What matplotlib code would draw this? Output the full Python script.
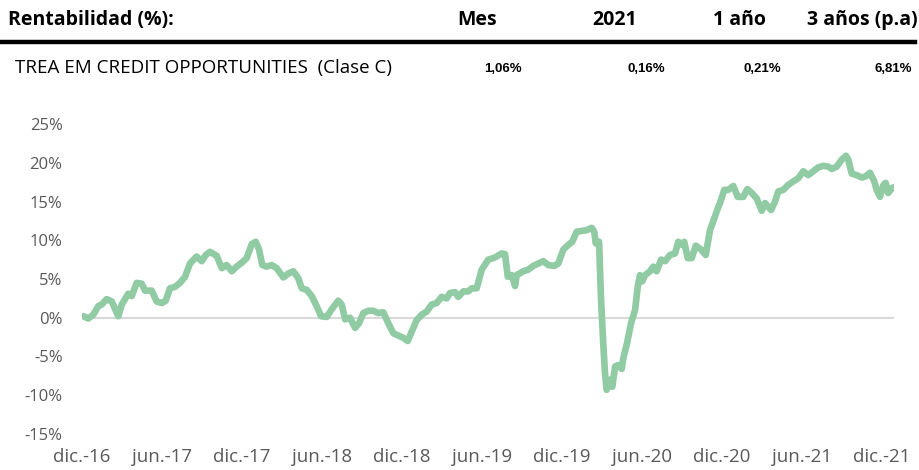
import matplotlib

matplotlib.use("Agg")
import matplotlib.pyplot as plt
from matplotlib.ticker import FuncFormatter

# meses desde dic.-16 y rentabilidad acumulada (%)
months = [
    0.10, 0.47, 0.85, 1.22, 1.48, 1.85, 2.23, 2.72, 2.98, 3.47, 3.73, 4.10, 4.48, 4.73, 5.23,
    5.60, 5.98, 6.28, 6.60, 6.98, 7.35, 7.73, 8.10, 8.60, 8.98, 9.28, 9.60, 10.10, 10.48, 10.85,
    11.23, 11.60, 11.98, 12.35, 12.73, 13.03, 13.28, 13.52, 13.85, 14.23, 14.60, 15.10, 15.47,
    15.85, 16.22, 16.48, 16.85, 17.23, 17.60, 17.93, 18.35, 18.73, 19.22, 19.48, 19.73, 20.10,
    20.48, 20.78, 21.10, 21.47, 21.85, 22.22, 22.60, 22.97, 23.35, 23.72, 24.10, 24.43, 24.85,
    25.10, 25.48, 25.85, 26.23, 26.60, 26.98, 27.35, 27.60, 27.98, 28.22, 28.60, 28.97, 29.23,
    29.60, 29.98, 30.47, 30.85, 31.10, 31.48, 31.73, 31.93, 32.23, 32.48, 32.60, 33.10, 33.47,
    33.85, 34.22, 34.60, 34.97, 35.42, 35.72, 36.10, 36.47, 36.77, 37.10, 37.48, 37.85, 38.23,
    38.42, 38.53, 38.78, 38.93, 39.10, 39.23, 39.35, 39.60, 39.77, 39.98, 40.22, 40.48, 40.60,
    40.85, 41.18, 41.48, 41.68, 41.85, 42.02, 42.23, 42.60, 42.85, 43.10, 43.43, 43.73, 44.10,
    44.48, 44.72, 45.02, 45.17, 45.43, 45.73, 46.03, 46.43, 46.78, 47.10, 47.48, 47.72, 47.85,
    48.17, 48.47, 48.85, 49.18, 49.60, 49.90, 50.23, 50.60, 50.98, 51.23, 51.68, 51.98, 52.22,
    52.60, 52.93, 53.35, 53.72, 54.10, 54.47, 54.85, 55.22, 55.60, 55.97, 56.23, 56.60, 56.98,
    57.30, 57.47, 57.73, 58.10, 58.48, 58.73, 59.10, 59.42, 59.60, 59.85, 60.10, 60.28, 60.47,
    60.73, 60.98,
]
rent = [
    0.2, -0.1, 0.4, 1.5, 1.7, 2.4, 2.1, 0.2, 1.7, 3.1, 2.8, 4.5, 4.4, 3.5, 3.5,
    2.1, 1.9, 2.2, 3.8, 4.0, 4.5, 5.3, 7.0, 7.9, 7.3, 8.1, 8.5, 8.0, 6.4, 6.8,
    6.0, 6.6, 7.1, 7.7, 9.5, 9.8, 8.8, 6.8, 6.6, 6.8, 6.4, 5.2, 5.7,
    6.0, 5.1, 3.8, 3.6, 2.8, 1.5, 0.2, 0.1, 1.1, 2.2, 1.7, -0.2, 0.0,
    -1.3, -0.7, 0.6, 0.9, 0.9, 0.6, 0.7, -0.7, -2.0, -2.3, -2.6, -3.0, -1.3,
    -0.3, 0.4, 0.8, 1.7, 1.9, 2.7, 2.5, 3.2, 3.3, 2.7, 3.4, 3.4, 3.8,
    3.8, 6.2, 7.5, 7.7, 7.9, 8.3, 8.2, 5.3, 5.5, 4.1, 5.5, 6.0, 6.2,
    6.7, 7.0, 7.3, 6.8, 6.7, 7.0, 8.8, 9.4, 9.8, 11.1, 11.2, 11.3, 11.6,
    11.1, 9.6, 9.8, 2.3, -3.5, -7.3, -9.3, -8.0, -8.9, -6.3, -6.1, -6.6, -5.2,
    -3.5, -0.7, 1.0, 4.0, 5.5, 4.7, 5.5, 6.0, 6.6, 6.0, 7.5, 7.3, 8.1,
    8.3, 9.8, 9.4, 9.8, 7.7, 7.7, 9.3, 8.8, 8.1, 11.3, 13.1, 14.3, 14.8,
    16.5, 16.5, 17.0, 15.6, 15.6, 16.6, 16.1, 15.4, 13.8, 14.8, 13.9, 15.0, 16.3,
    16.5, 17.1, 17.6, 18.0, 18.9, 18.4, 18.9, 19.4, 19.6, 19.5, 19.2, 19.5, 20.4,
    20.9, 20.4, 18.6, 18.4, 18.1, 18.2, 18.7, 17.6, 16.5, 15.6, 17.1, 17.4, 16.1,
    16.7, 16.9,
]

tick_months = [0, 6, 12, 18, 24, 30, 36, 42, 48, 54, 60]
tick_labels = ["dic.-16", "jun.-17", "dic.-17", "jun.-18", "dic.-18", "jun.-19",
               "dic.-19", "jun.-20", "dic.-20", "jun.-21", "dic.-21"]
y_ticks = [-15, -10, -5, 0, 5, 10, 15, 20, 25]

fondo = "TREA EM CREDIT OPPORTUNITIES  (Clase C)"
columnas = ["Mes", "2021", "1 año", "3 años (p.a)"]
valores = ["1,06%", "0,16%", "0,21%", "6,81%"]

plt.rcParams["font.family"] = ["Open Sans", "DejaVu Sans"]

fig = plt.figure(figsize=(9.2, 4.7), dpi=100)

# cabecera tipo tabla
fig.text(8 / 920, 1 - 20 / 470, "Rentabilidad (%):", fontsize=14, fontweight="bold", va="center")
for x, txt in zip([477, 615, 740, 862], columnas):
    fig.text(x / 920, 1 - 20 / 470, txt, fontsize=14, fontweight="bold", va="center", ha="center")
fig.add_artist(plt.Line2D([0, 915 / 920], [1 - 42 / 470] * 2, color="black", lw=3.2))
fig.text(15 / 920, 1 - 68 / 470, fondo, fontsize=13.5, va="center")
for x, txt in zip([503, 646, 762, 893], valores):
    fig.text(x / 920, 1 - 69 / 470, txt, fontsize=9.5, fontweight="bold", va="center", ha="center",
             family=["Liberation Sans", "DejaVu Sans"])

ax = fig.add_axes([82 / 920, 36 / 470, 812 / 920, 310 / 470])
ax.axhline(0, color="#d9d9d9", lw=1.5, zorder=1)
ax.plot(months, rent, color="#90cba4", lw=4.8, solid_joinstyle="round", solid_capstyle="round", zorder=3)
ax.set_xlim(0, 60.9)
ax.set_ylim(-15, 25)
ax.set_yticks(y_ticks)
ax.yaxis.set_major_formatter(FuncFormatter(lambda v, _: f"{v:.0f}%"))
ax.set_xticks(tick_months)
ax.set_xticklabels(tick_labels)
ax.tick_params(length=0, labelcolor="#595959")
ax.tick_params(axis="y", labelsize=12, pad=14)
ax.tick_params(axis="x", labelsize=13.5, pad=10)
for s in ax.spines.values():
    s.set_visible(False)

fig.savefig("out.png", dpi=100)
